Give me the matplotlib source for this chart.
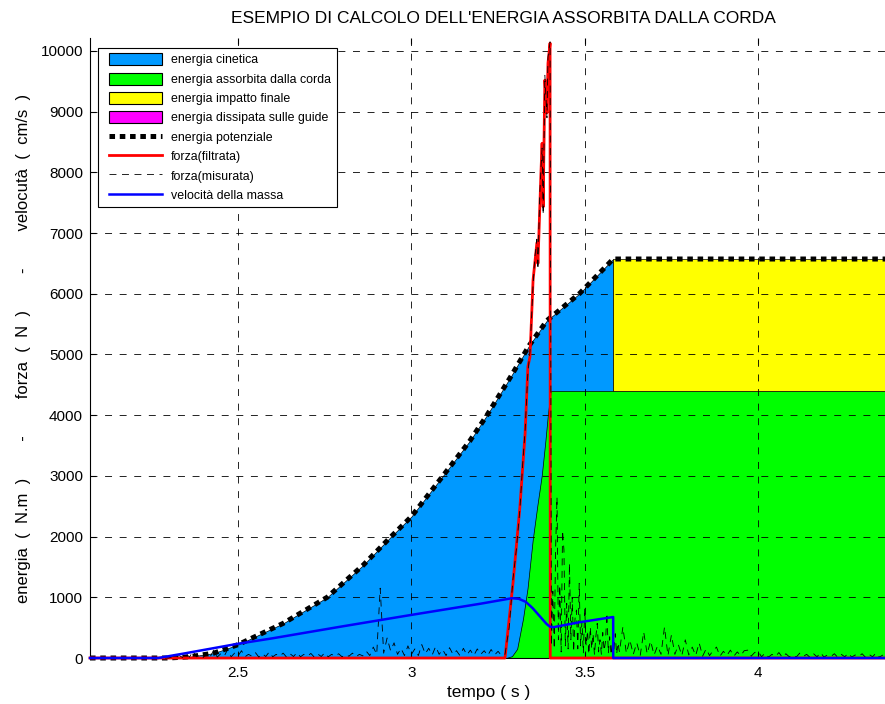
import numpy as np
import matplotlib
matplotlib.use('Agg')
import matplotlib.pyplot as plt
from matplotlib.patches import Rectangle, Patch
from matplotlib.lines import Line2D
from matplotlib.legend_handler import HandlerPatch, HandlerLine2D

plt.rcParams['font.family'] = ['Liberation Sans', 'DejaVu Sans']
plt.rcParams['lines.scale_dashes'] = False

# ---------------- data ----------------
T_START, T_END = 2.073, 4.372

t_pot = [2.073, 2.30, 2.36, 2.43, 2.50, 2.63, 2.757, 2.861, 2.938, 3.00, 3.091,
         3.169, 3.218, 3.285, 3.34, 3.391, 3.486, 3.582, 4.372]
e_pot = [0, 0, 20, 80, 220, 570, 1000, 1530, 1980, 2330, 3000,
         3580, 4000, 4620, 5150, 5560, 6010, 6573, 6573]

t_cord = [3.273, 3.29, 3.305, 3.322, 3.335, 3.35, 3.363, 3.376, 3.386, 3.394, 3.402, 4.372]
e_cord = [0, 30, 150, 650, 1150, 1950, 2500, 3010, 3550, 4030, 4400, 4400]

t_fin = [3.582, 4.372]
e_fin_low = [4400, 4400]
e_fin_high = [6573, 6573]

t_vel = [2.073, 2.27, 2.35, 2.50, 2.60, 2.80, 3.00, 3.20, 3.29, 3.31, 3.33, 3.35,
         3.37, 3.39, 3.40, 3.41, 3.486, 3.582, 3.5821, 4.372]
vel = [0, 0, 80, 235, 325, 520, 710, 895, 985, 975, 925, 820,
       690, 560, 515, 508, 590, 675, 0, 0]

t_filt = [2.073, 3.262, 3.270, 3.293, 3.313, 3.328, 3.336, 3.342, 3.351, 3.362,
          3.365, 3.374, 3.377, 3.380, 3.385, 3.391, 3.394, 3.400, 3.4005, 4.372]
f_filt = [0, 0, 0, 1230, 2490, 3700, 4800, 4960, 6230, 6840,
          6500, 8040, 8480, 7430, 9520, 8980, 9800, 10130, 0, 0]

# measured force (noisy) - pieces
f_mis_pre = [
    0, 20, 5, 40, 10, 70, 15, 110, 20, 60,
    10, 90, 25, 130, 15, 70, 30, 140, 20, 80,
    35, 120, 20, 60, 30, 90, 15, 70, 25, 100,
    20, 60, 30, 80, 15, 70, 25, 90, 20, 60,
    30, 75, 15, 65, 25, 85, 20, 60, 30, 70,
    20, 55, 30, 80, 20, 60, 35, 110, 40, 180,
    60, 1150, 80, 330, 120, 250, 60, 160, 40, 200,
    60, 150, 40, 220, 70, 160, 50, 190, 60, 140,
    40, 170, 60, 120, 40, 160, 50, 130, 40, 150,
    60, 120, 40, 140, 50, 110, 40]
t_mis_rise = [3.270, 3.282, 3.293, 3.303, 3.313, 3.321, 3.328, 3.336, 3.342, 3.351,
              3.356, 3.362, 3.365, 3.370, 3.374, 3.377, 3.380, 3.385, 3.391, 3.394, 3.400]
f_mis_rise = [60, 500, 1300, 1800, 2450, 3200, 3750, 4700, 5050, 6150,
              6600, 6900, 6400, 7600, 8100, 8400, 7300, 9600, 8900, 9900, 10150]
f_mis_post = [
    200, 1100, 150, 1800, 2650, 300, 1200, 100, 2100, 1780,
    200, 900, 150, 1560, 300, 1000, 100, 650, 790, 150,
    1230, 200, 600, 80, 820, 200, 450, 60, 510, 150,
    400, 50, 350, 570, 100, 300, 60, 420, 120, 280,
    740, 80, 350, 50, 300, 120, 400, 60, 250, 100]
f_mis_tail = [
    510, 80, 300, 60, 250, 40, 430, 70, 280, 50,
    200, 60, 510, 40, 380, 60, 220, 40, 300, 50,
    180, 40, 250, 30, 150, 40, 120, 180, 30, 110,
    40, 130, 30, 100, 40, 120, 130, 30, 90, 110]
f_mis_end = [
    20, 80, 15, 60, 25, 90, 10, 70, 20, 50,
    15, 80, 25, 60, 10, 70, 20, 90, 15, 50,
    25, 70, 10, 60, 20, 80, 15, 50, 25, 70,
    10, 60, 20, 80, 15, 50]

t_mis = np.concatenate([[T_START],
                        np.linspace(2.30, 3.26, len(f_mis_pre)),
                        t_mis_rise,
                        np.linspace(3.404, 3.600, len(f_mis_post)),
                        np.linspace(3.61, 4.00, len(f_mis_tail)),
                        np.linspace(4.01, 4.36, len(f_mis_end))])
f_mis = np.concatenate([[0], f_mis_pre, f_mis_rise, f_mis_post, f_mis_tail, f_mis_end])

labels = ['energia cinetica', 'energia assorbita dalla corda', 'energia impatto finale',
          'energia dissipata sulle guide', 'energia potenziale', 'forza(filtrata)',
          'forza(misurata)', 'velocità della massa']
c_cin, c_cord, c_fin, c_diss = '#0099ff', '#00ff00', '#ffff00', '#ff00ff'

# ---------------- figure ----------------
W, H = 885, 704
fig = plt.figure(figsize=(W / 100, H / 100), dpi=100)
ax_l, ax_r, ax_t, ax_b = 90, 887, 38, 658
ax = fig.add_axes([ax_l / W, 1 - ax_b / H, (ax_r - ax_l) / W, (ax_b - ax_t) / H])

n_cin = t_pot.index(3.582) + 1
ax.fill_between(t_pot[:n_cin], 0, e_pot[:n_cin], facecolor=c_cin, edgecolor='black', linewidth=0.5, zorder=1)
ax.fill_between(t_cord, 0, e_cord, facecolor=c_cord, edgecolor='black', linewidth=0.5, zorder=1.1)
ax.fill_between(t_fin, e_fin_low, e_fin_high, facecolor=c_fin, edgecolor='black', linewidth=0.5, zorder=1.2)

pot_ls = (0, (4, 3.4))
ax.plot(t_pot, e_pot, color='black', lw=3.6, linestyle=pot_ls, dash_capstyle='butt', zorder=3, clip_on=False)
ax.plot(t_filt, f_filt, color='#ff0000', lw=2.0, zorder=3.1, clip_on=False)
ax.plot(t_mis, f_mis, color='black', lw=0.6, linestyle=(0, (5, 4)), zorder=3.2, clip_on=False)
ax.plot(t_vel, vel, color='#0000ff', lw=1.8, zorder=3.3, clip_on=False)

ax.set_xlim(T_START, T_START + (ax_r - ax_l) / 346.7)
ax.set_ylim(0, 10214)
ax.set_xticks([2.5, 3, 3.5, 4])
ax.set_xticklabels(['2.5', '3', '3.5', '4'])
ax.set_yticks(np.arange(0, 10001, 1000))
ax.set_axisbelow(False)
ax.grid(True, color='black', lw=0.6, linestyle=(0, (5, 5.5)))
for s in ['top', 'right']:
    ax.spines[s].set_visible(False)
for s in ['left', 'bottom']:
    ax.spines[s].set_linewidth(0.8)
ax.tick_params(axis='both', direction='in', length=4, width=0.8, labelsize=11, pad=5)
ax.tick_params(axis='x', top=True, pad=6)

ax.set_xlabel('tempo ( s )', fontsize=12.5, labelpad=3)
ax.set_ylabel('energia  (  N.m  )        -        forza  (  N  )        -        velocutà  (  cm/s  )',
              fontsize=12, labelpad=7)
ax.set_title("ESEMPIO DI CALCOLO DELL'ENERGIA ASSORBITA DALLA CORDA", fontsize=12.5,
             x=(503 - ax_l) / (ax_r - ax_l), pad=11)

# legend
class ShiftPatch(HandlerPatch):
    def __init__(self, shift=0, **kw):
        super().__init__(**kw)
        self.shift = shift

    def _create_patch(self, legend, orig_handle, xdescent, ydescent, width, height, fontsize):
        return Rectangle(xy=(-xdescent + self.shift, -ydescent), width=width - self.shift, height=height)


class ShiftLine(HandlerLine2D):
    def __init__(self, shift=0, **kw):
        super().__init__(marker_pad=0, **kw)
        self.shift = shift

    def get_xdata(self, legend, xdescent, ydescent, width, height, fontsize):
        return super().get_xdata(legend, xdescent - self.shift, ydescent, width - self.shift, height, fontsize)


handles = [Patch(facecolor=c_cin, edgecolor='black', lw=0.8),
           Patch(facecolor=c_cord, edgecolor='black', lw=0.8),
           Patch(facecolor=c_fin, edgecolor='black', lw=0.8),
           Patch(facecolor=c_diss, edgecolor='black', lw=0.8),
           Line2D([], [], color='black', lw=3.6, linestyle=pot_ls, dash_capstyle='butt'),
           Line2D([], [], color='#ff0000', lw=2.0),
           Line2D([], [], color='black', lw=0.6, linestyle=(0, (5, 4))),
           Line2D([], [], color='#0000ff', lw=1.8)]
leg = ax.legend(handles, labels, loc='upper left',
                bbox_to_anchor=(98 / W, 1 - 47.7 / H), bbox_transform=fig.transFigure,
                borderaxespad=0, fontsize=8.9, handlelength=4.74, handleheight=1.11,
                labelspacing=0.5, handletextpad=0.72, borderpad=0.45, fancybox=False,
                framealpha=1, edgecolor='black',
                handler_map={Patch: ShiftPatch(shift=4), Line2D: ShiftLine(shift=4)})
leg.get_frame().set_linewidth(0.8)
leg.set_zorder(10)

fig.savefig('out.png', dpi=100)
